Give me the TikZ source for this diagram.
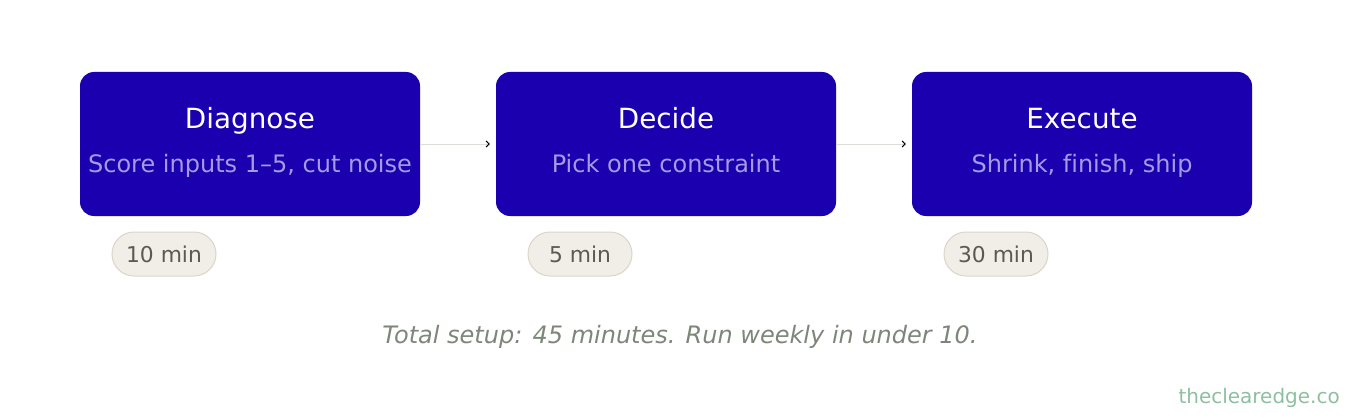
\documentclass[tikz,border=0pt]{standalone}
\usepackage{fontspec}
\setmainfont[Ligatures={NoCommon}]{DejaVu Sans}
\usetikzlibrary{arrows.meta}
\definecolor{stepblue}{HTML}{1A00AE}
\definecolor{sublav}{HTML}{A29CE2}
\definecolor{pillfill}{HTML}{F1EEE8}
\definecolor{pilledge}{HTML}{DAD5CB}
\definecolor{pilltext}{HTML}{5C5A50}
\definecolor{linkgray}{HTML}{DDDDD8}
\definecolor{notegray}{HTML}{7C877A}
\definecolor{markgreen}{HTML}{8DBFA0}
\tikzset{
  stepbox/.style={fill=stepblue, rounded corners=14pt, minimum width=340pt, minimum height=144pt, inner sep=0pt},
  steptitle/.style={anchor=base, inner sep=0pt, text=white, font=\fontsize{27.8}{30}\selectfont},
  stepsub/.style={anchor=base, inner sep=0pt, text=sublav, font=\fontsize{24}{28}\selectfont},
  pill/.style={fill=pillfill, draw=pilledge, line width=1pt, rounded corners=22pt, minimum width=104pt, minimum height=44pt, inner sep=0pt, text=pilltext, font=\fontsize{21.8}{24}\selectfont},
  link/.style={draw=linkgray, line width=1pt, -{Straight Barb[color=black,length=3pt,width=6pt]}, shorten >=6pt},
}
\begin{document}
\begin{tikzpicture}[x=1pt,y=-1pt]
  \useasboundingbox (0,0) rectangle (1360,420);
  % three steps, each with its time pill
  \foreach \n/\x/\title/\sub/\t in {1/250/Diagnose/{Score inputs 1–5, cut noise}/10,
                                    2/666/Decide/{Pick one constraint}/5,
                                    3/1082/Execute/{Shrink, finish, ship}/30}{
    \node[stepbox] (s\n) at (\x,144) {};
    \node[steptitle] (t\n) at (\x,128) {\title};
    \node[stepsub] (d\n) at (\x,172) {\sub};
    \node[pill] (p\n) at (\x-86,254) {\t\ min};
  }
  \draw[link] (s1.east) -- (s2.west);
  \draw[link] (s2.east) -- (s3.west);
  \node[anchor=base, inner sep=0pt, text=notegray, font=\fontsize{24}{28}\selectfont\itshape] (note) at (680,343) {Total setup: 45 minutes. Run weekly in under 10.};
  \node[anchor=base east, inner sep=0pt, text=markgreen, font=\fontsize{20}{24}\selectfont] (mark) at (1340,403) {theclearedge.co};
\end{tikzpicture}
\end{document}
